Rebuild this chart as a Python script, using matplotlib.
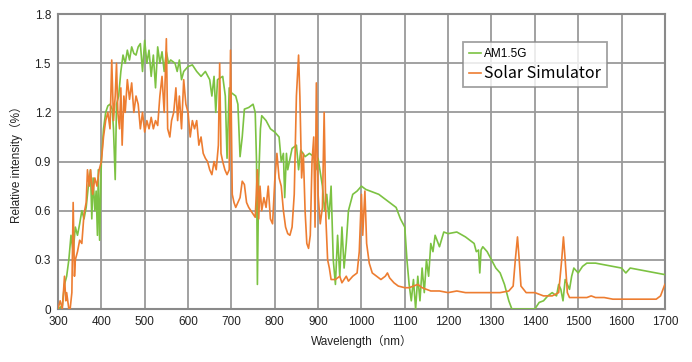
import matplotlib
matplotlib.use('Agg')
import matplotlib.pyplot as plt

plt.rcParams['font.family'] = ['Liberation Sans', 'Noto Sans CJK SC', 'DejaVu Sans']

# AM1.5G reference spectrum
am_wl = [300, 310, 315, 320, 325, 330, 335, 340, 345, 350, 355, 360, 365, 370, 375, 378,
         381, 385, 388, 391, 393, 396, 400, 405, 410, 415, 420, 425, 428, 432, 435, 440,
         445, 450, 455, 460, 465, 470, 475, 480, 485, 490, 495, 500, 505, 510, 515, 520,
         525, 530, 535, 540, 545, 550, 555, 560, 570, 575, 580, 585, 590, 600, 610, 620,
         630, 640, 650, 655, 660, 664, 668, 680, 686, 690, 695, 700, 710, 715, 720, 725, 730,
         740, 750, 755, 758, 760, 763, 767, 770, 780, 790, 800, 810, 815, 820, 823, 827,
         830, 840, 850, 855, 860, 870, 880, 890, 895, 900, 910, 915, 920, 925, 930, 935,
         940, 945, 950, 955, 960, 965, 970, 975, 980, 990, 1000, 1010, 1020, 1040, 1060,
         1080, 1090, 1100, 1105, 1110, 1115, 1120, 1125, 1130, 1135, 1140, 1145, 1150,
         1155, 1160, 1165, 1170, 1180, 1190, 1200, 1220, 1240, 1260, 1265, 1270, 1273,
         1276, 1280, 1290, 1300, 1310, 1320, 1330, 1340, 1347, 1360, 1380, 1400, 1405,
         1410, 1420, 1430, 1440, 1450, 1455, 1460, 1465, 1470, 1480, 1485, 1490, 1500,
         1510, 1520, 1540, 1560, 1580, 1600, 1610, 1620, 1640, 1660, 1680, 1700]
am_val = [0.0, 0.02, 0.15, 0.2, 0.3, 0.45, 0.35, 0.5, 0.45, 0.52, 0.6, 0.55, 0.62, 0.75, 0.85, 0.55,
          0.8, 0.6, 0.72, 0.45, 0.85, 0.42, 0.9, 1.1, 1.2, 1.24, 1.25, 1.22, 1.1, 0.79, 1.25, 1.3,
          1.45, 1.55, 1.5, 1.58, 1.52, 1.6, 1.56, 1.55, 1.6, 1.62, 1.45, 1.64, 1.5, 1.58, 1.42, 1.55,
          1.35, 1.6, 1.5, 1.57, 1.45, 1.57, 1.5, 1.52, 1.5, 1.45, 1.52, 1.4, 1.45, 1.48, 1.49, 1.45,
          1.42, 1.45, 1.4, 1.3, 1.42, 1.2, 1.4, 1.42, 1.3, 0.92, 1.35, 1.32, 1.3, 1.25, 0.93, 1.05, 1.22,
          1.23, 1.25, 1.2, 0.9, 0.15, 0.8, 1.1, 1.18, 1.15, 1.1, 1.08, 1.05, 0.9, 0.95, 0.68, 0.95,
          0.85, 0.98, 1.0, 0.85, 0.97, 0.93, 0.95, 0.93, 0.85, 0.92, 0.75, 0.6, 0.7, 0.55, 0.75, 0.3,
          0.15, 0.45, 0.2, 0.5, 0.25, 0.4, 0.6, 0.65, 0.7, 0.72, 0.75, 0.73, 0.72, 0.7, 0.66,
          0.62, 0.55, 0.5, 0.3, 0.15, 0.05, 0.18, 0.0, 0.2, 0.05, 0.25, 0.1, 0.3,
          0.2, 0.4, 0.35, 0.45, 0.38, 0.47, 0.46, 0.47, 0.44, 0.4, 0.35, 0.36, 0.22,
          0.36, 0.38, 0.35, 0.3, 0.25, 0.22, 0.15, 0.05, 0.0, 0.0, 0.0, 0.0, 0.02,
          0.04, 0.05, 0.08, 0.1, 0.08, 0.15, 0.12, 0.05, 0.18, 0.12, 0.2, 0.25, 0.22,
          0.26, 0.28, 0.28, 0.27, 0.26, 0.25, 0.22, 0.25, 0.24, 0.23, 0.22, 0.21]

# Solar simulator spectrum
ss_wl = [300, 305, 310, 315, 318, 320, 325, 328, 332, 335, 338, 340, 345, 350, 355, 360,
         365, 368, 372, 375, 380, 385, 390, 395, 400, 405, 410, 415, 420, 424, 428, 432,
         435, 438, 442, 445, 448, 452, 455, 460, 465, 470, 475, 480, 485, 490, 495, 500,
         505, 510, 515, 520, 525, 530, 535, 540, 545, 550, 553, 558, 562, 567, 572, 576,
         580, 585, 590, 595, 600, 605, 610, 615, 620, 625, 630, 635, 640, 645, 650, 655,
         660, 665, 670, 673, 676, 680, 685, 690, 695, 698, 702, 706, 710, 715, 720, 725,
         730, 735, 740, 745, 750, 755, 760, 763, 766, 770, 775, 780, 785, 790, 795, 800,
         805, 810, 815, 820, 825, 830, 835, 840, 845, 850, 855, 858, 862, 866, 870, 874,
         878, 882, 886, 890, 893, 896, 900, 905, 910, 914, 918, 922, 926, 930, 940, 950,
         955, 960, 965, 970, 980, 990, 995, 1000, 1003, 1008, 1012, 1018, 1025, 1035, 1045,
         1055, 1060, 1065, 1075, 1085, 1100, 1110, 1120, 1130, 1140, 1160, 1180, 1200,
         1220, 1240, 1260, 1280, 1300, 1320, 1340, 1350, 1355, 1360, 1364, 1368, 1380,
         1400, 1420, 1440, 1455, 1462, 1466, 1470, 1475, 1480, 1500, 1520, 1530, 1540,
         1560, 1580, 1600, 1620, 1640, 1660, 1680, 1690, 1700]
ss_val = [0.0, 0.05, 0.0, 0.2, 0.05, 0.1, 0.0, 0.0, 0.1, 0.65, 0.2, 0.3, 0.35, 0.42, 0.4, 0.58,
          0.65, 0.85, 0.75, 0.85, 0.7, 0.8, 0.75, 0.85, 0.9, 1.05, 1.15, 1.2, 1.1, 1.52, 1.15, 1.3,
          1.5, 1.2, 1.1, 1.35, 1.0, 1.3, 1.2, 1.4, 1.28, 1.38, 1.2, 1.3, 1.25, 1.1, 1.2, 1.08,
          1.15, 1.1, 1.17, 1.1, 1.15, 1.12, 1.3, 1.42, 1.2, 1.65, 1.1, 1.05, 1.15, 1.2, 1.35, 1.15,
          1.3, 1.1, 1.4, 1.25, 1.2, 1.05, 1.15, 1.1, 1.15, 1.0, 1.05, 0.95, 0.92, 0.9, 0.85, 0.82,
          0.9, 0.85, 1.0, 1.5, 0.95, 0.9, 0.85, 0.82, 0.85, 1.58, 0.7, 0.65, 0.62, 0.65, 0.68, 0.78,
          0.76, 0.65, 0.62, 0.6, 0.58, 0.56, 0.85, 0.55, 0.75, 0.6, 0.68, 0.62, 0.75, 0.55, 0.52, 0.78,
          0.95, 0.8, 0.75, 0.6, 0.5, 0.46, 0.45, 0.5, 0.7, 1.3, 1.55, 1.3, 0.8, 0.95, 0.6, 0.4,
          0.37, 0.45, 0.9, 1.05, 0.5, 1.38, 0.7, 0.52, 0.62, 1.2, 0.55, 0.3, 0.25, 0.18, 0.18, 0.2,
          0.16, 0.18, 0.2, 0.17, 0.2, 0.22, 0.35, 0.7, 0.45, 0.72, 0.4, 0.28, 0.22, 0.2, 0.18,
          0.2, 0.22, 0.19, 0.16, 0.14, 0.13, 0.13, 0.14, 0.15, 0.13, 0.11, 0.11, 0.1,
          0.11, 0.1, 0.1, 0.1, 0.1, 0.1, 0.11, 0.14, 0.3, 0.44, 0.3, 0.14, 0.1,
          0.1, 0.08, 0.08, 0.1, 0.3, 0.44, 0.3, 0.1, 0.07, 0.07, 0.07, 0.08, 0.07,
          0.07, 0.06, 0.06, 0.06, 0.06, 0.06, 0.06, 0.08, 0.15]

x_ticks = list(range(300, 1701, 100))
y_ticks = [0, 0.3, 0.6, 0.9, 1.2, 1.5, 1.8]
y_labels = ['0', '0.3', '0.6', '0.9', '1.2', '1.5', '1.8']

fig = plt.figure(figsize=(6.92, 3.62), dpi=100)
ax = fig.add_axes([0.0838, 0.1464, 0.877, 0.8146])

ax.plot(am_wl, am_val, color='#7cc242', lw=1.2, label='AM1.5G', zorder=3)
ax.plot(ss_wl, ss_val, color='#ed7d31', lw=1.2, label='Solar Simulator', zorder=4)

ax.set_xlim(300, 1700)
ax.set_ylim(0, 1.8)
ax.set_xticks(x_ticks)
ax.set_yticks(y_ticks)
ax.set_yticklabels(y_labels)
ax.tick_params(length=0, labelsize=8.5, colors='#222222', pad=5)
ax.grid(True, color='#9a9a9a', lw=1.3)
ax.set_axisbelow(True)
for s in ax.spines.values():
    s.set_color('#8a8a8a')
    s.set_linewidth(1.5)

ax.set_xlabel('Wavelength（nm）', fontsize=8.5, color='#222222', labelpad=5)
ax.set_ylabel('Relative intensity（%）', fontsize=8.5, color='#222222', labelpad=8)

leg = ax.legend(loc='upper left', bbox_to_anchor=(0.668, 0.905), frameon=True,
                fancybox=False, handlelength=0.9, handletextpad=0.2,
                borderpad=0.4, labelspacing=0.3, borderaxespad=0)
leg.get_frame().set_edgecolor('#8a8a8a')
leg.get_frame().set_linewidth(1.3)
texts = leg.get_texts()
texts[0].set_fontsize(8.5)
texts[1].set_fontfamily(['Noto Sans CJK SC', 'DejaVu Sans'])
texts[1].set_fontsize(11.5)

fig.savefig('out.png', dpi=100)
